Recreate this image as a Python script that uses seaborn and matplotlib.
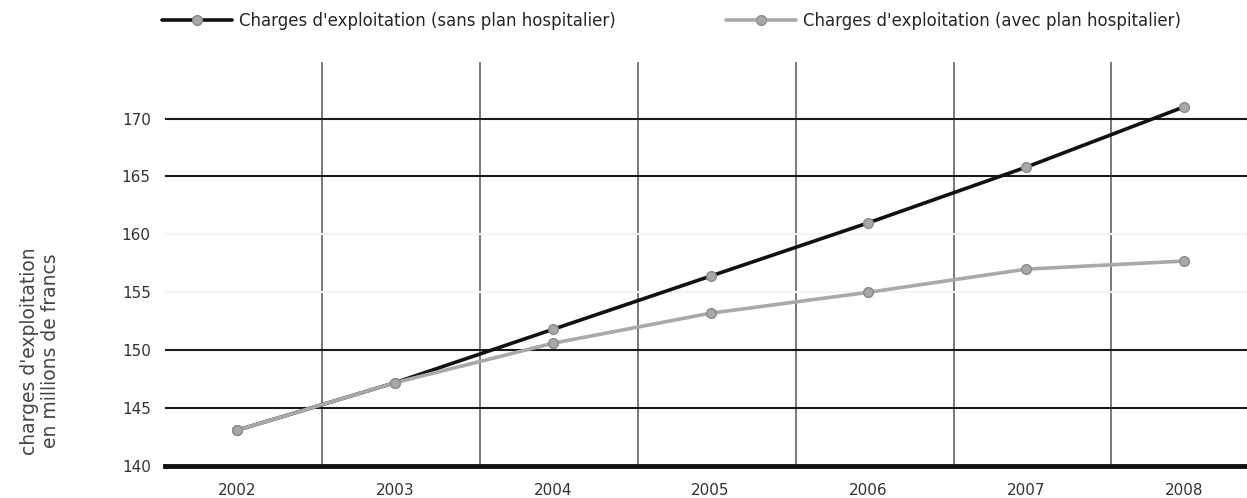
import matplotlib
matplotlib.use("Agg")
import matplotlib.pyplot as plt
import seaborn as sns
import pandas as pd
import numpy as np

# values
years = [2002, 2003, 2004, 2005, 2006, 2007, 2008]
sans_plan = [143.1, 147.2, 151.8, 156.4, 161.0, 165.8, 171.0]
avec_plan = [143.1, 147.2, 150.6, 153.2, 155.0, 157.0, 157.7]
label_sans = "Charges d'exploitation (sans plan hospitalier)"
label_avec = "Charges d'exploitation (avec plan hospitalier)"
y_ticks = [140, 145, 150, 155, 160, 165, 170]

sns.set_style("white")
plt.rcParams['font.family'] = ['Liberation Sans Narrow', 'DejaVu Sans']

df = pd.concat([
    pd.DataFrame({"year": years, "value": sans_plan, "serie": label_sans}),
    pd.DataFrame({"year": years, "value": avec_plan, "serie": label_avec}),
])

fig = plt.figure(figsize=(12.47, 4.98), dpi=100)
ax = fig.add_axes([0.132, 0.064, 0.868, 0.812])

# horizontal grid: strong lines, 155/160 almost invisible as in original
for lvl in [145, 150, 165, 170]:
    ax.axhline(lvl, color="#1a1a1a", lw=1.5, zorder=1)
for lvl in [155, 160]:
    ax.axhline(lvl, color="#f4f4f4", lw=1.5, zorder=1)

sns.lineplot(data=df, x="year", y="value", hue="serie", ax=ax,
             palette={label_sans: "#111111", label_avec: "#a9a9a9"},
             marker="o", markersize=7, markerfacecolor="#a8a8a8",
             markeredgecolor="#8a8a8a", markeredgewidth=1,
             linewidth=2.6, zorder=3)

ax.set_xlim(2001.54, 2008.4)
ax.set_ylim(140, 174.9)

ax.set_xticks(years)
ax.set_xticklabels([str(y) for y in years], fontsize=11, color="#333333")
ax.set_xticks(np.array(years[:-1]) + 0.54, minor=True)
ax.grid(which="minor", axis="x", color="#555555", lw=1.1)
ax.tick_params(axis="x", which="major", length=0, pad=12)
ax.tick_params(axis="x", which="minor", length=5, width=1.1, color="#555555",
               direction="out")

ax.set_yticks(y_ticks)
ax.set_yticklabels([str(v) for v in y_ticks], fontsize=11, color="#333333")
ax.tick_params(axis="y", length=0, pad=10)

for s in ["top", "right", "left"]:
    ax.spines[s].set_visible(False)
ax.spines["bottom"].set_linewidth(3.5)
ax.spines["bottom"].set_color("#111111")
ax.spines["bottom"].set_zorder(4)

ax.set_xlabel("")
ax.set_ylabel("")
fig.text(0.032, 0.295, "charges d'exploitation\nen millions de francs",
         rotation=90, ha="center", va="center", fontsize=13.5,
         color="#444444", linespacing=1.1)

handles, labels = ax.get_legend_handles_labels()
ax.legend(handles, labels, ncol=2, frameon=False, fontsize=12,
          loc="center left", bbox_to_anchor=(-0.002, 1.10),
          borderaxespad=0, borderpad=0,
          handlelength=4.2, handletextpad=0.4, columnspacing=6.6,
          numpoints=1)

fig.savefig("out.png", dpi=100)
